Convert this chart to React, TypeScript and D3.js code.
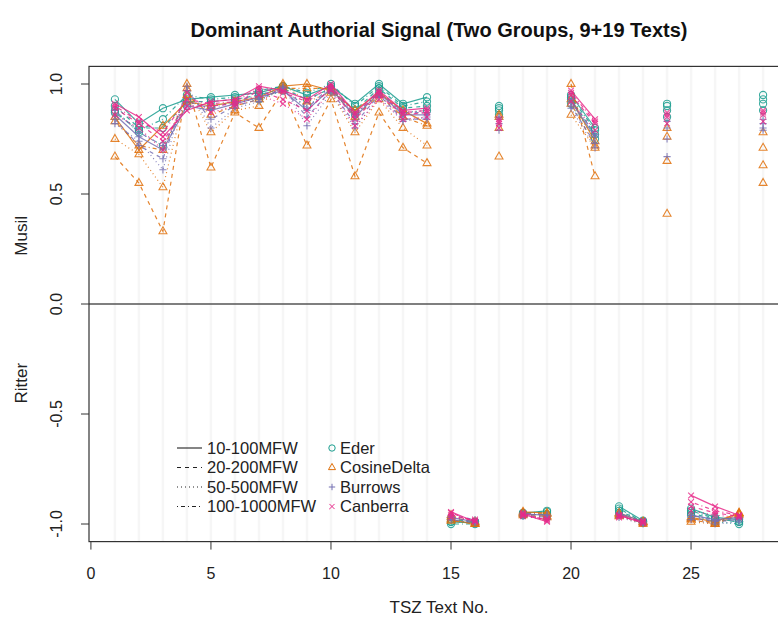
import * as d3 from "d3";

const WIDTH = 778;
const HEIGHT = 619;
const FONT = "'Liberation Sans', Arial, Helvetica, sans-serif";

// text numbers and the author group each one belongs to (M = Musil, R = Ritter)
const textNo = d3.range(1, 29);
const author = [
  "M", "M", "M", "M", "M", "M", "M", "M", "M", "M", "M", "M", "M", "M",
  "R", "R", "M", "R", "R", "M", "M", "R", "R", "M", "R", "R", "R", "M",
];

const methods = ["Eder", "CosineDelta", "Burrows", "Canberra"];
const mfwRanges = ["10-100MFW", "20-200MFW", "50-500MFW", "100-1000MFW"];
const xTicks = [0, 5, 10, 15, 20, 25];
const yTicks = [-1, -0.5, 0, 0.5, 1];

// Eder
const eder10_100 = [0.93, 0.82, 0.89, 0.93, 0.94, 0.95, 0.96, 0.99, 0.95, 0.99, 0.91, 1.0, 0.91, 0.94, -0.99, -0.995, 0.9, -0.95, -0.94, 0.95, 0.8, -0.92, -0.985, 0.91, -0.93, -0.97, -0.98, 0.95];
const eder20_200 = [0.9, 0.8, 0.8, 0.92, 0.92, 0.93, 0.95, 0.98, 0.93, 0.98, 0.88, 0.98, 0.89, 0.9, -0.98, -0.99, 0.88, -0.96, -0.955, 0.93, 0.77, -0.94, -0.99, 0.88, -0.95, -0.98, -0.99, 0.91];
const eder50_500 = [0.88, 0.78, 0.72, 0.9, 0.9, 0.92, 0.93, 0.97, 0.9, 0.97, 0.86, 0.96, 0.87, 0.88, -0.99, -0.99, 0.86, -0.955, -0.96, 0.91, 0.75, -0.95, -0.995, 0.85, -0.96, -0.99, -1.0, 0.88];
const eder100_1000 = [0.87, 0.79, 0.84, 0.95, 0.93, 0.94, 0.97, 0.99, 0.96, 1.0, 0.9, 0.99, 0.9, 0.92, -1.0, -1.0, 0.89, -0.95, -0.945, 0.94, 0.79, -0.93, -0.99, 0.9, -0.94, -0.975, -0.99, 0.93];

// Cosine Delta
const cosine10_100 = [0.85, 0.7, 0.81, 0.92, 0.9, 0.92, 0.94, 0.99, 1.0, 0.97, 0.88, 0.96, 0.88, 0.82, -0.98, -1.0, 0.86, -0.945, -0.95, 0.93, 0.74, -0.95, -0.99, 0.8, -0.97, -0.99, -0.95, 0.78];
const cosine20_200 = [0.67, 0.55, 0.33, 1.0, 0.62, 0.87, 0.8, 0.97, 0.72, 0.93, 0.58, 0.87, 0.71, 0.64, -0.97, -0.99, 0.67, -0.955, -0.965, 1.0, 0.58, -0.96, -0.995, 0.41, -0.98, -1.0, -0.955, 0.55];
const cosine50_500 = [0.75, 0.68, 0.53, 0.98, 0.78, 0.88, 0.9, 1.0, 0.92, 0.96, 0.78, 0.93, 0.8, 0.72, -0.96, -0.995, 0.8, -0.96, -0.97, 0.86, 0.71, -0.965, -1.0, 0.65, -0.99, -1.0, -0.96, 0.63];
const cosine100_1000 = [0.83, 0.72, 0.7, 0.95, 0.86, 0.9, 0.93, 0.98, 0.98, 0.98, 0.85, 0.95, 0.85, 0.81, -0.985, -1.0, 0.85, -0.95, -0.955, 0.91, 0.72, -0.955, -0.99, 0.76, -0.975, -0.995, -0.95, 0.71];

// Burrows
const burrows10_100 = [0.86, 0.76, 0.7, 0.9, 0.88, 0.91, 0.94, 0.97, 0.88, 0.98, 0.85, 0.96, 0.86, 0.86, -0.97, -0.99, 0.84, -0.955, -0.96, 0.92, 0.76, -0.95, -0.99, 0.8, -0.96, -0.98, -0.97, 0.82];
const burrows20_200 = [0.84, 0.72, 0.66, 0.97, 0.84, 0.9, 0.93, 0.98, 0.85, 0.97, 0.82, 0.95, 0.84, 0.84, -0.96, -0.98, 0.82, -0.96, -0.97, 0.9, 0.73, -0.96, -0.995, 0.75, -0.97, -0.99, -0.98, 0.8];
const burrows50_500 = [0.82, 0.74, 0.61, 0.99, 0.8, 0.89, 0.92, 0.99, 0.81, 0.96, 0.8, 0.94, 0.83, 0.85, -0.97, -0.99, 0.79, -0.965, -0.98, 0.89, 0.71, -0.97, -1.0, 0.67, -0.98, -1.0, -0.99, 0.79];
const burrows100_1000 = [0.88, 0.78, 0.72, 0.92, 0.89, 0.92, 0.95, 0.98, 0.89, 0.99, 0.86, 0.97, 0.87, 0.87, -0.98, -0.995, 0.85, -0.95, -0.96, 0.93, 0.77, -0.955, -0.99, 0.83, -0.96, -0.985, -0.975, 0.84];

// Canberra
const canberra10_100 = [0.91, 0.85, 0.76, 0.88, 0.92, 0.93, 0.99, 0.97, 0.93, 1.0, 0.87, 0.97, 0.88, 0.89, -0.945, -0.99, 0.84, -0.955, -0.99, 0.97, 0.84, -0.96, -0.995, 0.87, -0.87, -0.92, -0.96, 0.88];
const canberra20_200 = [0.89, 0.82, 0.74, 0.9, 0.9, 0.91, 0.97, 0.93, 0.88, 0.98, 0.84, 0.95, 0.86, 0.87, -0.96, -0.985, 0.82, -0.96, -0.98, 0.95, 0.82, -0.965, -0.99, 0.85, -0.92, -0.95, -0.965, 0.86];
const canberra50_500 = [0.86, 0.8, 0.7, 0.96, 0.87, 0.9, 0.95, 0.91, 0.84, 0.97, 0.81, 0.93, 0.84, 0.85, -0.97, -0.98, 0.8, -0.965, -0.975, 0.92, 0.79, -0.97, -0.985, 0.82, -0.94, -0.96, -0.97, 0.83];
const canberra100_1000 = [0.9, 0.83, 0.78, 0.93, 0.91, 0.92, 0.98, 0.96, 0.92, 0.99, 0.86, 0.96, 0.87, 0.88, -0.95, -0.99, 0.83, -0.95, -0.985, 0.96, 0.83, -0.96, -0.995, 0.86, -0.9, -0.94, -0.96, 0.87];

const seriesValues: Record<string, number[][]> = {
  Eder: [eder10_100, eder20_200, eder50_500, eder100_1000],
  CosineDelta: [cosine10_100, cosine20_200, cosine50_500, cosine100_1000],
  Burrows: [burrows10_100, burrows20_200, burrows50_500, burrows100_1000],
  Canberra: [canberra10_100, canberra20_200, canberra50_500, canberra100_1000],
};

const COLORS: Record<string, string> = {
  Eder: "#1B9E8F",
  CosineDelta: "#E0700A",
  Burrows: "#7570B3",
  Canberra: "#E7298A",
};
const DASHES = [undefined, "4,4", "1,3", "1,3,4,3"];

// R-style plotting region (xlim/ylim padded by 4%)
const PLOT = { left: 89, right: 789, top: 66.4, bottom: 541.6 };

const marker = (method: string, s: number) => {
  if (method === "Eder") return `M${s},0A${s},${s} 0 1,1 ${-s},0A${s},${s} 0 1,1 ${s},0Z`;
  if (method === "CosineDelta") {
    const h = s * 1.1;
    return `M0,${-h * 1.15}L${h},${h * 0.6}L${-h},${h * 0.6}Z`;
  }
  if (method === "Burrows") return `M${-s},0H${s}M0,${-s}V${s}`;
  return `M${-s * 0.8},${-s * 0.8}L${s * 0.8},${s * 0.8}M${-s * 0.8},${s * 0.8}L${s * 0.8},${-s * 0.8}`;
};

// split a series into runs of consecutive texts by the same author
const runsOf = (values: number[]) => {
  const runs: { x: number; y: number }[][] = [];
  let current: { x: number; y: number }[] = [];
  values.forEach((v, i) => {
    if (i > 0 && author[i] !== author[i - 1]) {
      runs.push(current);
      current = [];
    }
    current.push({ x: textNo[i], y: v });
  });
  runs.push(current);
  return runs.filter((r) => r.length > 1);
};

export default function App() {
  const xScale = d3.scaleLinear().domain([1 - 27 * 0.04, 28 + 27 * 0.04]).range([PLOT.left, PLOT.right]);
  const yScale = d3.scaleLinear().domain([-1.08, 1.08]).range([PLOT.bottom, PLOT.top]);

  const line = d3
    .line<{ x: number; y: number }>()
    .x((d) => xScale(d.x))
    .y((d) => yScale(d.y));

  return (
    <svg
      width={WIDTH}
      height={HEIGHT}
      style={{ position: "absolute", left: 0, top: 0, background: "#fff" }}
      fontFamily={FONT}
    >
      <rect width={WIDTH} height={HEIGHT} fill="#fff" />
      <defs>
        <clipPath id="plot-clip">
          <rect x={PLOT.left} y={PLOT.top} width={PLOT.right - PLOT.left} height={PLOT.bottom - PLOT.top} />
        </clipPath>
      </defs>

      {/* faint vertical guides at each text */}
      {textNo.map((t) => (
        <line
          key={t}
          x1={xScale(t)}
          x2={xScale(t)}
          y1={PLOT.top}
          y2={PLOT.bottom}
          stroke="#f6f6f6"
          strokeWidth={2.5}
        />
      ))}

      <line x1={PLOT.left} x2={PLOT.right} y1={yScale(0)} y2={yScale(0)} stroke="#555" strokeWidth={1.3} />

      <g clipPath="url(#plot-clip)">
        {methods.map((m) =>
          seriesValues[m].map((vals, k) => (
            <g key={`${m}-${k}`} stroke={COLORS[m]} fill="none" strokeOpacity={0.85}>
              {runsOf(vals).map((run, r) => (
                <path key={r} d={line(run) ?? ""} strokeWidth={1.2} strokeDasharray={DASHES[k]} />
              ))}
              {vals.map((v, i) => (
                <path
                  key={i}
                  d={marker(m, 3.6)}
                  transform={`translate(${xScale(textNo[i])},${yScale(v)})`}
                  strokeWidth={1.1}
                />
              ))}
            </g>
          )),
        )}
      </g>

      {/* box */}
      <rect
        x={PLOT.left}
        y={PLOT.top}
        width={PLOT.right - PLOT.left}
        height={PLOT.bottom - PLOT.top}
        fill="none"
        stroke="#333"
        strokeWidth={1.2}
      />

      {/* x axis */}
      {xTicks.map((t) => (
        <g key={t}>
          <line x1={xScale(t)} x2={xScale(t)} y1={PLOT.bottom} y2={PLOT.bottom + 8} stroke="#333" />
          <text x={xScale(t)} y={PLOT.bottom + 37} textAnchor="middle" fontSize={16} fill="#222">
            {t}
          </text>
        </g>
      ))}
      <text x={(PLOT.left + PLOT.right) / 2} y={613} textAnchor="middle" fontSize={17} fill="#222">
        TSZ Text No.
      </text>

      {/* y axis */}
      {yTicks.map((t) => (
        <g key={t}>
          <line x1={PLOT.left - 8} x2={PLOT.left} y1={yScale(t)} y2={yScale(t)} stroke="#333" />
          <text
            transform={`translate(${PLOT.left - 27},${yScale(t)}) rotate(-90)`}
            textAnchor="middle"
            fontSize={16}
            fill="#222"
          >
            {t.toFixed(1)}
          </text>
        </g>
      ))}
      <text transform={`translate(27,${yScale(0.31)}) rotate(-90)`} textAnchor="middle" fontSize={17} fill="#222">
        Musil
      </text>
      <text transform={`translate(27,${yScale(-0.36)}) rotate(-90)`} textAnchor="middle" fontSize={17} fill="#222">
        Ritter
      </text>

      {/* title */}
      <text
        x={(PLOT.left + PLOT.right) / 2}
        y={37}
        textAnchor="middle"
        fontSize={19.5}
        fontWeight="bold"
        fill="#111"
        textLength={497}
        lengthAdjust="spacingAndGlyphs"
      >
        Dominant Authorial Signal (Two Groups, 9+19 Texts)
      </text>

      {/* legend */}
      <g transform="translate(177,448)">
        {mfwRanges.map((label, k) => (
          <g key={label} transform={`translate(0,${k * 19.5})`}>
            <line x1={0} x2={25} y1={0} y2={0} stroke="#222" strokeWidth={1.1} strokeDasharray={DASHES[k]} />
            <text x={30} y={5.5} fontSize={16.5} fill="#222">
              {label}
            </text>
          </g>
        ))}
        {methods.map((m, k) => (
          <g key={m} transform={`translate(155,${k * 19.5})`}>
            <path d={marker(m, 3.2)} fill="none" stroke={COLORS[m]} strokeWidth={1} />
            <text x={8} y={5.5} fontSize={16.5} fill="#222">
              {m}
            </text>
          </g>
        ))}
      </g>
    </svg>
  );
}
